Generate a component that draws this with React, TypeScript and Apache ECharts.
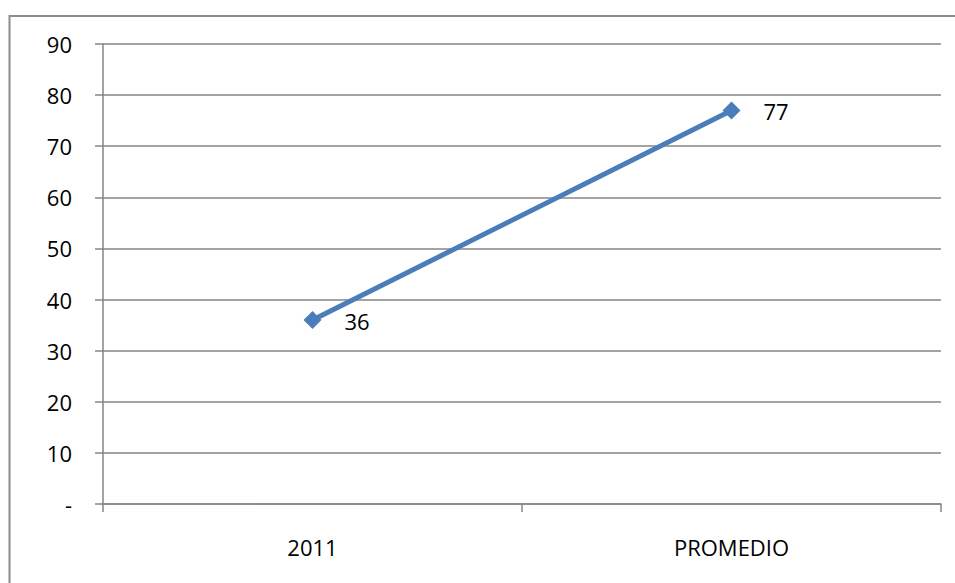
import React, { useEffect, useRef } from "react";
import * as echarts from "echarts";

const categories = ["2011", "PROMEDIO"];
const values = [36, 77];
const yMin = 0;
const yMax = 90;
const yStep = 10;

export default function App() {
  const ref = useRef<HTMLDivElement>(null);
  useEffect(() => {
    if (!ref.current) return;
    const chart = echarts.init(ref.current, null, { renderer: "svg" });
    const font = "'Open Sans', 'Liberation Sans', sans-serif";
    chart.setOption({
      animation: false,
      backgroundColor: "#ffffff",
      graphic: [
        {
          type: "rect",
          shape: { x: 9.5, y: 16, width: 960, height: 600 },
          style: { fill: "none", stroke: "#8c8c8c", lineWidth: 2 },
          silent: true,
        },
      ],
      grid: {
        left: 103,
        top: 44,
        right: 14,
        bottom: 79,
        containLabel: false,
        outerBoundsMode: "none",
      },
      xAxis: {
        type: "category",
        data: categories,
        boundaryGap: true,
        axisLine: { show: true, lineStyle: { color: "#868686", width: 1.5 } },
        axisTick: { show: true, length: 8, lineStyle: { color: "#868686", width: 1.5 } },
        axisLabel: { margin: 32, color: "#000", fontSize: 22, fontFamily: font },
        splitLine: { show: false },
      },
      yAxis: {
        type: "value",
        min: yMin,
        max: yMax,
        interval: yStep,
        axisLine: { show: true, lineStyle: { color: "#868686", width: 1.5 } },
        axisTick: { show: true, length: 8, lineStyle: { color: "#868686", width: 1.5 } },
        axisLabel: {
          margin: 31,
          color: "#000",
          fontSize: 22,
          fontFamily: font,
          formatter: (v: number) => (v === 0 ? "-" : String(v)),
        },
        splitLine: { show: true, lineStyle: { color: "#868686", width: 1.5 } },
      },
      series: [
        {
          type: "line",
          data: values,
          symbol: "diamond",
          symbolSize: 18,
          itemStyle: { color: "#4a7ebb" },
          lineStyle: { color: "#4a7ebb", width: 5 },
          label: {
            show: true,
            position: "right",
            distance: 23,
            offset: [0, 1],
            color: "#000",
            fontSize: 22,
            fontFamily: font,
          },
        },
      ],
    });
    return () => chart.dispose();
  }, []);
  return (
    <div
      ref={ref}
      style={{ position: "fixed", left: 0, top: 0, width: 955, height: 583 }}
    />
  );
}
